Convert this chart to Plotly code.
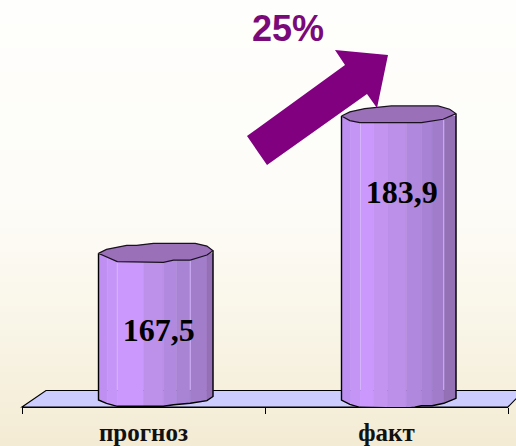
import numpy as np
import plotly.graph_objects as go

categories = ["прогноз", "факт"]
values = [167.5, 183.9]
value_labels = ["167,5", "183,9"]
growth_label = "25%"

W, H = 516, 446
ML, MR, MB = 22, 8, 39
PLOT_W, PLOT_H = W - ML - MR, H - MB
PX_PER_UNIT = 8.38
Y_BASE = 150.0
BASE_PX = 400
y_min = Y_BASE - (H - MB - BASE_PX) / PX_PER_UNIT
y_max = Y_BASE + BASE_PX / PX_PER_UNIT
PX_PER_X = PLOT_W / 2.0
DEPTH_X = 12.25 / PX_PER_X
BAR_W = 114.5 / PX_PER_X

FACET_EDGES = [
    [0, .076, .164, .392, .567, .684, .801, .947, 1],
    [0, .081, .166, .277, .402, .567, .698, .791, .893, 1],
]
FACET_COLORS = [
    ["#c08ff2", "#c596f7", "#cb99fe", "#bd90ea", "#b18adf", "#a984d5", "#a17dca", "#9670b6"],
    ["#bd8ff0", "#c595f6", "#cb99fe", "#c395f1", "#bc90e9", "#b088dd", "#a882d4", "#a07ccb", "#9470b5"],
]
HILITE = [[.164, .801], [.166, .893]]
CAP_TOP = [
    [(0, 0), (.07, -4), (.246, -8), (.333, -8), (.48, -10), (.845, -10), (.947, -7.3), (1, -2.7)],
    [(0, 0), (.073, -4), (.203, -7.3), (.436, -10), (.843, -10), (.945, -6.7), (1, -2.3)],
]
CAP_BOT = [
    [(0, 0), (.164, 8.3), (.567, 9), (.655, 6.7), (.801, 6.7), (.947, 1.7), (1, -2.7)],
    [(0, 0), (.073, 4.7), (.16, 6.7), (.698, 6.7), (.887, 3.3), (1, -2.3)],
]
BASE_BOT = [
    [(0, 0), (.07, 3.3), (.164, 6.3), (.567, 6.3), (.655, 4.7), (.801, 3.3), (.947, .7), (1, -3.5)],
    [(0, 0), (.073, 4.3), (.16, 7.3), (.567, 8), (.64, 7.3), (.698, 5.7), (.791, 5.7), (.893, 3.3), (1, -1.7)],
]
LABEL_DX = [3, 3]
LABEL_DY = 79.5

CAP_COLOR = "#9a71b8"
FLOOR_COLOR = "#ccccff"
ARROW_COLOR = "#800080"


def curve_at(curve, f):
    xs, ys = zip(*curve)
    return float(np.interp(f, xs, ys))


def sub_curve(curve, a, b):
    fs = [a] + [p[0] for p in curve if a < p[0] < b] + [b]
    return fs, [curve_at(curve, f) for f in fs]


traces = []
for i, v in enumerate(values):
    x0 = i + DEPTH_X - BAR_W / 2
    edges = FACET_EDGES[i]
    for a, b, col in zip(edges[:-1], edges[1:], FACET_COLORS[i]):
        fs, dys = sub_curve(BASE_BOT[i], a, b)
        xs = [x0 + a * BAR_W, x0 + b * BAR_W] + [x0 + f * BAR_W for f in fs[::-1]]
        ys = [v, v] + [Y_BASE - d / PX_PER_UNIT for d in dys[::-1]]
        traces.append(go.Scatter(x=xs + xs[:1], y=ys + ys[:1], mode="lines", fill="toself",
                                 fillcolor=col, line=dict(color=col, width=0.5), hoverinfo="skip"))
    for f in HILITE[i]:
        traces.append(go.Scatter(x=[x0 + f * BAR_W] * 2, y=[v, Y_BASE + 1.2], mode="lines",
                                 line=dict(color="#d4b4fb", width=1), hoverinfo="skip"))
    fs, dys = sub_curve(BASE_BOT[i], 0, 1)
    sx = [x0] + [x0 + f * BAR_W for f in fs] + [x0 + BAR_W]
    sy = [v] + [Y_BASE - d / PX_PER_UNIT for d in dys] + [v]
    sy[-1] = v - curve_at(CAP_TOP[i], 1) / PX_PER_UNIT
    traces.append(go.Scatter(x=sx, y=sy, mode="lines", line=dict(color="black", width=1.4), hoverinfo="skip"))
    cx = [x0 + p[0] * BAR_W for p in CAP_TOP[i]] + [x0 + p[0] * BAR_W for p in CAP_BOT[i][::-1]]
    cy = [v - p[1] / PX_PER_UNIT for p in CAP_TOP[i]] + [v - p[1] / PX_PER_UNIT for p in CAP_BOT[i][::-1]]
    traces.append(go.Scatter(x=cx, y=cy, mode="lines", fill="toself", fillcolor=CAP_COLOR,
                             line=dict(color="#1a1020", width=1.2), hoverinfo="skip"))
    traces.append(go.Scatter(x=[i + DEPTH_X + LABEL_DX[i] / PX_PER_X],
                             y=[v - LABEL_DY / PX_PER_UNIT], mode="text", text=[value_labels[i]],
                             textposition="middle center",
                             textfont=dict(family="Liberation Serif", size=32, color="black", weight=700),
                             hoverinfo="skip"))

fig = go.Figure(traces)


def px(x):
    return (x - ML) / PLOT_W


def py(y):
    return (H - MB - y) / PLOT_H


def path(points):
    return "M " + " L ".join(f"{px(a):.5f} {py(b):.5f}" for a, b in points) + " Z"


shapes = []
STOPS_Y = [0, 200, 300, 446]
STOPS_R = [254, 253, 250, 243]
STOPS_G = [254, 252, 247, 235]
STOPS_B = [252, 248, 235, 211]
STEP = 6
for y in range(0, H, STEP):
    c = [int(round(np.interp(y + STEP / 2, STOPS_Y, s))) for s in (STOPS_R, STOPS_G, STOPS_B)]
    shapes.append(dict(type="rect", xref="paper", yref="paper", layer="below",
                       x0=px(0), x1=px(W), y0=py(y), y1=py(y + STEP),
                       fillcolor=f"rgb({c[0]},{c[1]},{c[2]})", line_width=0))

shapes.append(dict(type="path", xref="paper", yref="paper", layer="below",
                   path=path([(22, 407), (46, 390.5), (524, 390.5), (508, 407)]),
                   fillcolor=FLOOR_COLOR, line=dict(color="black", width=1.2)))
shapes.append(dict(type="path", xref="paper", yref="paper", layer="above",
                   path=path([(247, 136), (345, 65), (335, 50), (388, 55), (377, 108), (367, 94), (267, 165)]),
                   fillcolor=ARROW_COLOR, line_width=0))

fig.update_layout(
    width=W, height=H, autosize=False, showlegend=False,
    margin=dict(l=ML, r=MR, t=0, b=MB, pad=0),
    paper_bgcolor="#fefefc", plot_bgcolor="rgba(0,0,0,0)",
    shapes=shapes,
    xaxis=dict(range=[-0.5, 1.5], tickmode="array", tickvals=[0, 1], ticktext=categories,
               ticks="", showgrid=False, zeroline=False, showline=True, linecolor="black", linewidth=1.2,
               ticklabelstandoff=3,
               tickfont=dict(family="Liberation Serif", size=25, color="#111111", weight=700),
               minor=dict(tickmode="array", tickvals=[-0.5, 0.5, 1.5], ticks="outside", ticklen=6,
                          tickcolor="black", tickwidth=1, showgrid=False)),
    yaxis=dict(range=[y_min, y_max], visible=False, showgrid=False, zeroline=False),
    annotations=[dict(text=growth_label, xref="paper", yref="paper", x=px(287.5), y=py(28.5),
                      xanchor="center", yanchor="middle", showarrow=False,
                      font=dict(family="Liberation Sans", size=36, color="#7a0a7a", weight=700))],
)
fig.write_html("out.html", config=dict(displayModeBar=False),
               post_script="document.documentElement.style.margin='0';document.body.style.margin='0';document.body.style.padding='0';document.body.style.overflow='hidden';")
